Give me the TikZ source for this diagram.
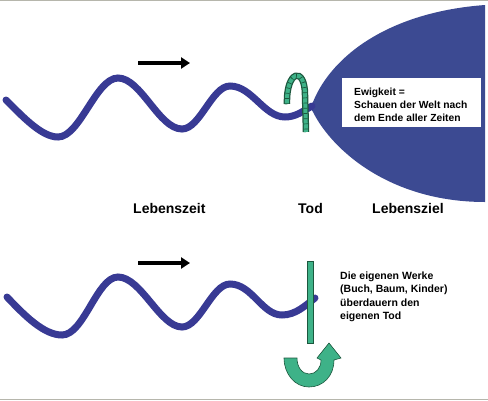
\documentclass[tikz,border=0pt]{standalone}
\usepackage{fontspec}
\setmainfont{Liberation Sans}
\usetikzlibrary{arrows.meta}
\definecolor{wavec}{RGB}{56,58,148}
\definecolor{shapec}{RGB}{60,74,146}
\definecolor{greenc}{RGB}{62,178,136}
\definecolor{darkg}{RGB}{28,88,62}
\definecolor{rulec}{RGB}{182,182,172}
\begin{document}
\begin{tikzpicture}[x=1pt,y=-1pt,
  wave/.style={line width=7pt, draw=wavec, line cap=round},
  dirarrow/.style={line width=3.5pt, -{Triangle[length=9pt,width=11pt]}},
  boxtxt/.style={anchor=base west, inner sep=0pt, font=\fontsize{10.3}{13}\selectfont\bfseries},
  label/.style={anchor=base west, inner sep=0pt, font=\fontsize{14}{16}\selectfont\bfseries},
  greenpart/.style={fill=greenc, draw=darkg, line width=0.6pt}]
\useasboundingbox (0,0) rectangle (488,400);
\fill[rulec] (0,0) rectangle (488,1.2);
\fill[rulec] (0,398.6) rectangle (488,400);
% eternity shape
\fill[shapec] (485,5) -- (485,202) .. controls (390,202) and (332,150) .. (313,112)
  .. controls (310,108) and (310,106) .. (313,102)
  .. controls (332,55) and (390,12) .. (485,5) -- cycle;
% top wave
\draw[wave] (6,100) .. controls (24,118) and (42,137) .. (58,137)
  .. controls (80,137) and (96,78) .. (118,78)
  .. controls (141,78) and (159,129) .. (182,129)
  .. controls (200,129) and (212,86) .. (230,86)
  .. controls (252,86) and (264,117) .. (285,117)
  .. controls (296,117) and (303,111) .. (312,106);
% top arrow
\coordinate (a1s) at (138,63);
\coordinate (a1e) at (190,63);
\draw[dirarrow] (a1s) -- (a1e);
% hook
\draw[line width=6.5pt, darkg] (287,104) .. controls (286,70) and (305,66) .. (305,95) -- (306,132);
\draw[line width=4pt, greenc] (287,104) .. controls (286,70) and (305,66) .. (305,95) -- (306,132);
\draw[line width=4pt, darkg, dash pattern=on 0.7pt off 4.5pt] (287,104) .. controls (286,70) and (305,66) .. (305,95) -- (306,132);
% box
\node[fill=white, minimum width=139pt, minimum height=49pt, anchor=north west, inner sep=0pt] (box) at (342,78) {};
\node[boxtxt] (e1) at (354,95) {Ewigkeit =};
\node[boxtxt] (e2) at (354,108.2) {Schauen der Welt nach};
\node[boxtxt] (e3) at (354,121.4) {dem Ende aller Zeiten};
% labels
\node[label] (lz) at (133,213.3) {Lebenszeit};
\node[label] (tod) at (298,213.3) {Tod};
\node[label] (lzl) at (372,213.3) {Lebensziel};
% bottom wave
\draw[wave] (7,297) .. controls (25,316) and (44,335) .. (62,335)
  .. controls (84,335) and (97,277) .. (118,277)
  .. controls (141,277) and (160,327) .. (182,327)
  .. controls (200,327) and (212,284) .. (230,284)
  .. controls (252,284) and (262,315) .. (282,315)
  .. controls (296,315) and (306,305) .. (315,298);
\coordinate (a2s) at (138,263);
\coordinate (a2e) at (190,263);
\draw[dirarrow] (a2s) -- (a2e);
% bar
\draw[greenpart] (307,261) rectangle (313,343);
% U arrow
\draw[greenpart] (284,358) .. controls (284,374) and (295,387) .. (309,387)
  .. controls (323,387) and (334,376) .. (334,360)
  -- (341,358) -- (329,343) -- (317,358) -- (321,360)
  .. controls (321,368) and (316,374) .. (309,374)
  .. controls (302,374) and (297,367) .. (297,358) -- cycle;
% bottom text
\node[boxtxt, font=\fontsize{10.5}{13}\selectfont\bfseries] (t1) at (340,279.5) {Die eigenen Werke};
\node[boxtxt, font=\fontsize{10.5}{13}\selectfont\bfseries] (t2) at (340,292.8) {(Buch, Baum, Kinder)};
\node[boxtxt, font=\fontsize{10.5}{13}\selectfont\bfseries] (t3) at (340,306.1) {überdauern den};
\node[boxtxt, font=\fontsize{10.5}{13}\selectfont\bfseries] (t4) at (340,319.4) {eigenen Tod};
\end{tikzpicture}
\end{document}
